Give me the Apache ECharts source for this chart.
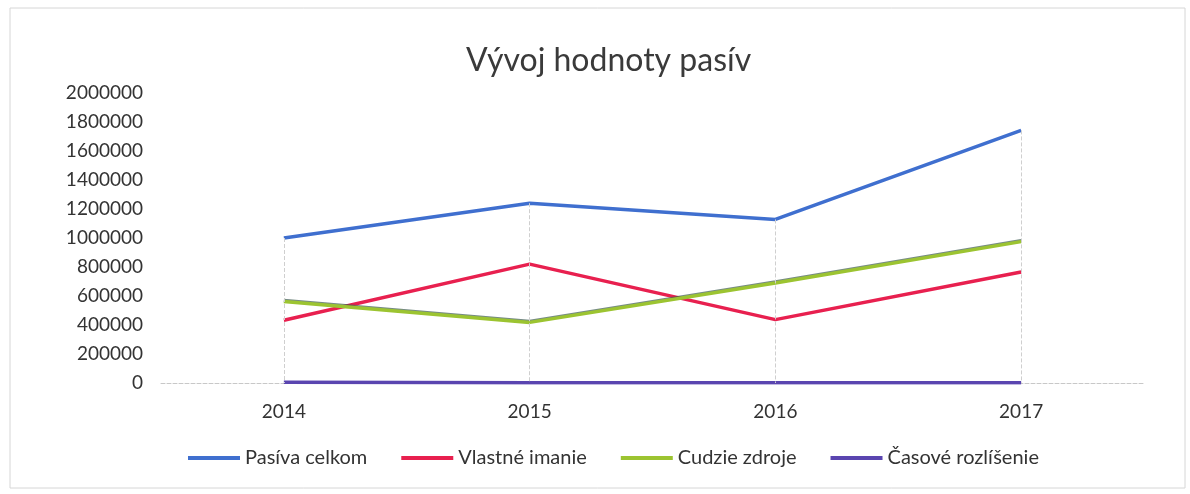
<!DOCTYPE html>
<html>
<head>
<meta charset="utf-8">
<script src="https://cdn.jsdelivr.net/npm/echarts@6/dist/echarts.min.js"></script>
<style>
html,body{margin:0;padding:0;background:#fff;}
#chart{width:1190px;height:494px;}
</style>
</head>
<body>
<div id="chart"></div>
<script>
const titleText = 'Vývoj hodnoty pasív';
const categories = ['2014', '2015', '2016', '2017'];
const seriesNames = ['Pasíva celkom', 'Vlastné imanie', 'Cudzie zdroje', 'Časové rozlíšenie'];
const pasivaCelkom = [1000000, 1240000, 1128000, 1742000];
const vlastneImanie = [433000, 820000, 437000, 765000];
const cudzieZdroje = [562000, 418000, 689000, 975000];
const casoveRozlisenie = [5000, 2000, 2000, 2000];
const yTicks = [0, 200000, 400000, 600000, 800000, 1000000, 1200000, 1400000, 1600000, 1800000, 2000000];

const colors = ['#3f6fcf', '#e8204f', '#9cc431', '#5a45b0'];
const font = 'Lato, "Open Sans", sans-serif';

const allSeries = [pasivaCelkom, vlastneImanie, cudzieZdroje, casoveRozlisenie];
const dropLines = categories.map((c, i) => {
  const top = Math.max(...allSeries.map(s => s[i]));
  return [{ coord: [c, top] }, { coord: [c, 0] }];
});

const chart = echarts.init(document.getElementById('chart'), null, { renderer: 'canvas' });
chart.setOption({
  animation: false,
  backgroundColor: '#fff',
  title: {
    text: titleText,
    left: 461,
    top: 40,
    textStyle: { fontFamily: font, fontSize: 32, fontWeight: 'normal', color: '#3a3a3a' }
  },
  graphic: [{
    type: 'rect',
    shape: { x: 10, y: 8, width: 1175, height: 480 },
    style: { fill: 'none', stroke: '#d6d6d6', lineWidth: 1 },
    silent: true
  }],
  legend: {
    bottom: 21,
    left: 183,
    itemWidth: 52,
    itemHeight: 4,
    itemGap: 34,
    icon: 'rect',
    textStyle: { fontFamily: font, fontSize: 20, color: '#333' },
    data: seriesNames
  },
  grid: { left: 161, right: 46, top: 93, bottom: 111 },
  xAxis: {
    type: 'category',
    data: categories,
    boundaryGap: true,
    axisLine: { show: true, lineStyle: { color: '#c8c8c8', type: 'dashed', width: 1 } },
    axisTick: { show: false },
    axisLabel: { fontFamily: font, fontSize: 19, color: '#333', margin: 19 },
    splitLine: { show: false }
  },
  yAxis: {
    type: 'value',
    min: yTicks[0],
    max: yTicks[yTicks.length - 1],
    interval: yTicks[1] - yTicks[0],
    axisLine: { show: false },
    axisTick: { show: false },
    splitLine: { show: false },
    axisLabel: { fontFamily: font, fontSize: 19, color: '#333', margin: 18, formatter: v => String(v) }
  },
  series: [
    {
      name: seriesNames[0], type: 'line', data: pasivaCelkom, symbol: 'none',
      lineStyle: { color: colors[0], width: 3.5 }, itemStyle: { color: colors[0] },
      markLine: {
        silent: true, symbol: 'none', label: { show: false },
        lineStyle: { color: '#cfcfcf', type: 'dashed', width: 1 },
        data: dropLines
      }
    },
    {
      name: seriesNames[1], type: 'line', data: vlastneImanie, symbol: 'none',
      lineStyle: { color: colors[1], width: 3.5 }, itemStyle: { color: colors[1] }
    },
    {
      name: seriesNames[2], type: 'line', data: cudzieZdroje, symbol: 'none',
      lineStyle: { color: colors[2], width: 3.5, shadowColor: 'rgba(60,90,80,0.7)', shadowBlur: 0, shadowOffsetY: -1 },
      itemStyle: { color: colors[2] }
    },
    {
      name: seriesNames[3], type: 'line', data: casoveRozlisenie, symbol: 'none',
      lineStyle: { color: colors[3], width: 3.5 }, itemStyle: { color: colors[3] }
    }
  ]
});
</script>
</body>
</html>
